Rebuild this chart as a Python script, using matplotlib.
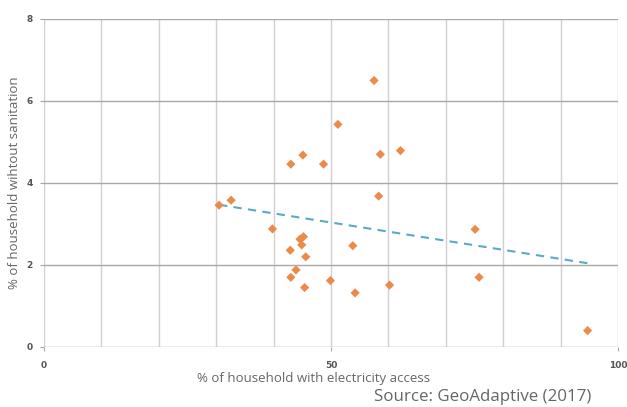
import numpy as np
import matplotlib
matplotlib.use("Agg")
import matplotlib.pyplot as plt

# Data
electricity = [30.5, 32.6, 39.8, 42.9, 45.2, 44.6, 44.9, 45.6, 43.9, 43.0, 45.4,
               49.9, 53.8, 54.2, 60.2, 58.3, 75.1, 75.8, 94.7, 57.5, 51.2, 43.0,
               45.1, 48.7, 58.6, 62.1]
no_sanitation = [3.46, 3.58, 2.88, 2.36, 2.69, 2.63, 2.49, 2.20, 1.88, 1.70, 1.45,
                 1.62, 2.47, 1.32, 1.51, 3.68, 2.87, 1.70, 0.40, 6.50, 5.43, 4.46,
                 4.68, 4.46, 4.70, 4.79]
x_ticks = [0, 50, 100]
y_ticks = [0, 2, 4, 6, 8]

fig = plt.figure(figsize=(6.27, 4.07), dpi=100)
ax = fig.add_axes([44/627, 1-347/407, (618-44)/627, (347-19)/407])

ax.set_xlim(0, 100)
ax.set_ylim(0, 8)

for v in range(0, 101, 10):
    ax.axvline(v, color="#d0d0d0", lw=1.0, zorder=0)
for v in range(0, 9, 2):
    ax.axhline(v, color="#a8a8a8", lw=1.0, zorder=0)

ax.scatter(electricity, no_sanitation, marker="D", s=22, color="#EC8A4A",
           edgecolors="none", zorder=3)

x = np.array(electricity)
y = np.array(no_sanitation)
m, b = np.polyfit(x, y, 1)
xs = np.array([x.min(), x.max()])
ax.plot(xs, m*xs + b, ls=(0, (4, 3)), color="#5AAAC6", lw=1.5, zorder=2)

for s in ax.spines.values():
    s.set_visible(False)

ax.set_xticks(x_ticks)
ax.set_yticks(y_ticks)
ax.set_xticklabels([str(t) for t in x_ticks], fontsize=6.5, fontweight="bold", color="#555555")
ax.set_yticklabels([str(t) for t in y_ticks], fontsize=6.5, fontweight="bold", color="#555555")
ax.tick_params(axis="x", length=3, color="#a8a8a8", pad=7)
ax.tick_params(axis="y", length=3, color="#a8a8a8", pad=5)

ax.set_ylabel("% of household wihtout sanitation", fontsize=9.5, color="#666666",
              family="Open Sans", labelpad=4)
ax.set_xlabel("% of household with electricity access", fontsize=9.5, color="#666666",
              family="Open Sans")
ax.xaxis.set_label_coords(0.47, -0.075)

fig.text(591/627, 1-397/407, "Source: GeoAdaptive (2017)", ha="right", va="center",
         fontsize=12.2, color="#666666", family="Open Sans")

fig.savefig("out.png", dpi=100)
